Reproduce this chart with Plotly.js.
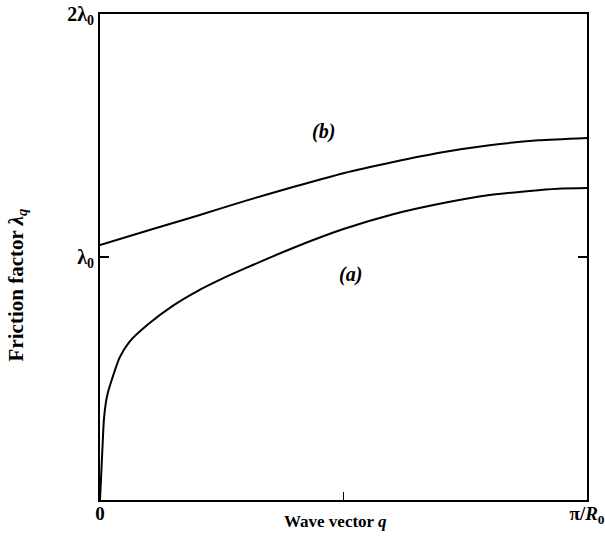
<!DOCTYPE html>
<html>
<head>
<meta charset="utf-8">
<script src="https://cdn.plot.ly/plotly-3.0.1.min.js"></script>
<style>html,body{margin:0;padding:0;background:#fff;}#plot{width:605px;height:559px;}</style>
</head>
<body>
<div id="plot"></div>
<script>
// Wave vector q in units of pi/R0
const qA = [0, 0.004, 0.008, 0.012, 0.016, 0.025, 0.04, 0.06, 0.1, 0.15, 0.2, 0.25, 0.3, 0.4, 0.5, 0.6, 0.7, 0.8, 0.9, 0.95, 1.0];
// Curve (a): friction factor in units of lambda0
const lamA = [0, 0.17, 0.33, 0.40, 0.44, 0.50, 0.585, 0.65, 0.725, 0.80, 0.86, 0.91, 0.955, 1.04, 1.115, 1.175, 1.22, 1.255, 1.275, 1.282, 1.284];
const qB = [0, 0.1, 0.2, 0.3, 0.4, 0.5, 0.6, 0.7, 0.8, 0.9, 1.0];
// Curve (b)
const lamB = [1.049, 1.11, 1.17, 1.232, 1.29, 1.345, 1.39, 1.43, 1.46, 1.48, 1.49];

const xTickVals = [0, 0.5, 1];
const xTickText = ['0', '', 'π/<i>R</i><sub>0</sub>'];
const yTickVals = [0, 1, 2];
const yTickText = ['', 'λ<sub>0</sub>', '2λ<sub>0</sub>'];

const serif = 'Liberation Serif, DejaVu Serif, serif';
const lineStyle = {color: '#000', width: 2, shape: 'spline', smoothing: 0.6};
const traces = [
  {x: qA, y: lamA, mode: 'lines', line: lineStyle, hoverinfo: 'skip', name: '(a)'},
  {x: qB, y: lamB, mode: 'lines', line: lineStyle, hoverinfo: 'skip', name: '(b)'}
];

const layout = {
  width: 605, height: 559,
  margin: {l: 100, r: 18, t: 14, b: 59},
  paper_bgcolor: '#fff', plot_bgcolor: '#fff',
  showlegend: false,
  font: {family: serif, size: 16, color: '#000'},
  xaxis: {
    range: [0, 1], tickvals: xTickVals, ticktext: xTickText,
    ticks: 'inside', ticklen: 8, tickwidth: 1.5, tickcolor: '#000',
    showline: true, linecolor: '#000', linewidth: 2, mirror: true,
    showgrid: false, zeroline: false, ticklabelstandoff: -5,
    tickfont: {family: serif, size: 19, color: '#000', weight: 'bold'}
  },
  yaxis: {
    range: [0, 2], tickvals: yTickVals, ticktext: yTickText,
    ticks: 'inside', ticklen: 9, tickwidth: 1.5, tickcolor: '#000',
    showline: true, linecolor: '#000', linewidth: 2, mirror: 'ticks',
    showgrid: false, zeroline: false,
    tickfont: {family: serif, size: 20, color: '#000', weight: 'bold'}
  },
  annotations: [
    {x: 0.483, y: -0.045, xref: 'paper', yref: 'paper', xanchor: 'center', yanchor: 'middle',
     text: '<b>Wave vector <i>q</i></b>', showarrow: false, font: {family: serif, size: 17, color: '#000'}},
    {x: -0.170, y: 0.442, xref: 'paper', yref: 'paper', xanchor: 'center', yanchor: 'middle', textangle: -90,
     text: '<b>Friction factor <i>λ<sub>q</sub></i></b>', showarrow: false, font: {family: serif, size: 21, color: '#000'}},
    {x: 0.458, y: 1.515, xref: 'x', yref: 'y', text: '<b><i>(b)</i></b>', showarrow: false, font: {family: serif, size: 20, color: '#000'}},
    {x: 0.514, y: 0.93, xref: 'x', yref: 'y', text: '<b><i>(a)</i></b>', showarrow: false, font: {family: serif, size: 20, color: '#000'}}
  ]
};
Plotly.newPlot('plot', traces, layout, {displayModeBar: false, staticPlot: true});
</script>
</body>
</html>
